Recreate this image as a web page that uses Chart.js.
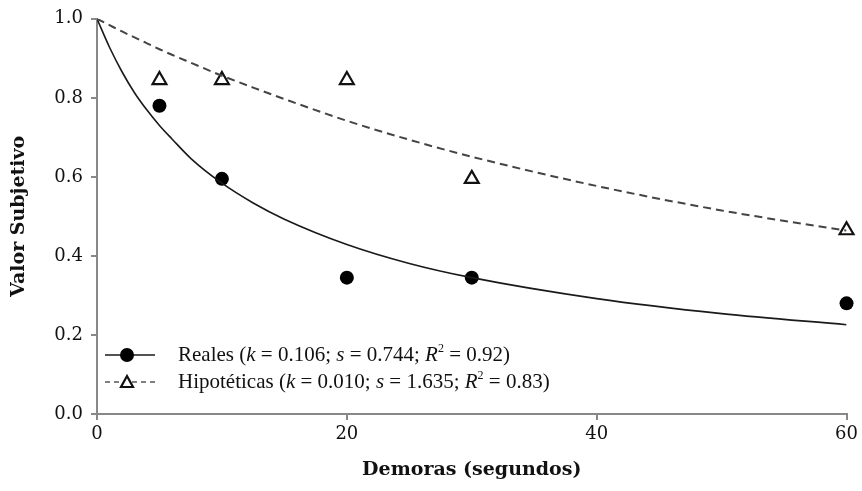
<!DOCTYPE html>
<html><head><meta charset="utf-8">
<script src="https://cdn.jsdelivr.net/npm/chart.js@4.4.1/dist/chart.umd.min.js"></script>
<style>html,body{margin:0;padding:0;background:#fff}#wrap{width:862px;height:491px}</style>
</head><body><div id="wrap"><canvas id="c" width="862" height="491"></canvas></div>
<script>
// Observed points
const delays = [5, 10, 20, 30, 60];
const realesValues = [0.78, 0.595, 0.345, 0.345, 0.28];
const hipoteticasValues = [0.845, 0.845, 0.845, 0.595, 0.465];
// Fitted curves, values
const curveDelays = [0, 1, 2, 3, 4, 5, 6, 7.5, 10, 12.5, 15, 20, 25, 30, 40, 50, 60];
const realesCurve = [1.0, 0.928, 0.866, 0.813, 0.769, 0.73, 0.696, 0.647, 0.584, 0.534, 0.493, 0.429, 0.381, 0.345, 0.292, 0.254, 0.226];
const hipoteticasCurve = [1.0, 0.984, 0.968, 0.953, 0.938, 0.923, 0.909, 0.889, 0.856, 0.826, 0.797, 0.742, 0.694, 0.651, 0.577, 0.515, 0.464];
// Tick labels
const xTicks = [0, 20, 40, 60];
const yTicks = [0.0, 0.2, 0.4, 0.6, 0.8, 1.0];
// Legend texts
const legendNames = ['Reales', 'Hipotéticas'];
const legendK = ['0.106', '0.010'];
const legendS = ['0.744', '1.635'];
const legendR2 = ['0.92', '0.83'];

const SERIF = '"DejaVu Serif", "Liberation Serif", serif';
const LSERIF = '"Liberation Serif", "DejaVu Serif", serif';
const toXY = (xs, ys) => xs.map((x, i) => ({x: x, y: ys[i]}));

const legendPlugin = {
  id: 'customLegend',
  afterDraw(chart) {
    const ctx = chart.ctx, ca = chart.chartArea;
    const x0 = ca.left + 8, x1 = ca.left + 58, xm = ca.left + 30, tx = ca.left + 81;
    const ys = [ca.bottom - 59, ca.bottom - 32];
    ctx.save();
    for (let i = 0; i < 2; i++) {
      const y = ys[i];
      ctx.beginPath();
      ctx.strokeStyle = i === 0 ? '#1a1a1a' : '#555';
      ctx.lineWidth = 1.6;
      ctx.setLineDash(i === 0 ? [] : [5, 4]);
      ctx.moveTo(x0, y); ctx.lineTo(x1, y); ctx.stroke();
      ctx.setLineDash([]);
      if (i === 0) {
        ctx.beginPath(); ctx.fillStyle = '#000';
        ctx.arc(xm, y, 7, 0, Math.PI * 2); ctx.fill();
      } else {
        ctx.beginPath(); ctx.fillStyle = '#fff'; ctx.strokeStyle = '#111'; ctx.lineWidth = 2.2;
        ctx.moveTo(xm, y - 6); ctx.lineTo(xm + 6, y + 5); ctx.lineTo(xm - 6, y + 5); ctx.closePath();
        ctx.fill(); ctx.stroke();
      }
      const segs = [
        {t: legendNames[i] + ' (', f: ''},
        {t: 'k', f: 'italic '},
        {t: ' = ' + legendK[i] + '; ', f: ''},
        {t: 's', f: 'italic '},
        {t: ' = ' + legendS[i] + '; ', f: ''},
        {t: 'R', f: 'italic '},
        {t: '2', f: '', sup: true},
        {t: ' = ' + legendR2[i] + ')', f: ''}
      ];
      let x = tx;
      ctx.fillStyle = '#111';
      ctx.textBaseline = 'middle';
      ctx.textAlign = 'left';
      for (const s of segs) {
        ctx.font = s.f + (s.sup ? '12px ' : '21px ') + LSERIF;
        ctx.fillText(s.t, x, s.sup ? y - 6 : y);
        x += ctx.measureText(s.t).width;
      }
    }
    ctx.restore();
  }
};

new Chart(document.getElementById('c'), {
  type: 'scatter',
  data: {
    datasets: [
      {data: toXY(curveDelays, hipoteticasCurve), showLine: true, pointRadius: 0, borderColor: '#444', borderWidth: 2, borderDash: [8, 5], tension: 0.4, cubicInterpolationMode: 'monotone', fill: false},
      {data: toXY(curveDelays, realesCurve), showLine: true, pointRadius: 0, borderColor: '#1a1a1a', borderWidth: 1.6, tension: 0.4, cubicInterpolationMode: 'monotone', fill: false},
      {data: toXY(delays, hipoteticasValues), pointStyle: 'triangle', pointRadius: 8, pointBackgroundColor: '#fff', pointBorderColor: '#111', pointBorderWidth: 2.2, clip: false},
      {data: toXY(delays, realesValues), pointStyle: 'circle', pointRadius: 7, pointBackgroundColor: '#000', pointBorderColor: '#000', pointBorderWidth: 0, clip: false}
    ]
  },
  options: {
    responsive: false,
    animation: false,
    layout: {padding: {left: 0, top: 14, right: 13, bottom: 0}},
    plugins: {legend: {display: false}, tooltip: {enabled: false}},
    scales: {
      x: {
        type: 'linear', min: 0, max: 60,
        afterBuildTicks: (s) => { s.ticks = xTicks.map(v => ({value: v})); },
        afterFit: (s) => { s.height = 77; },
        grid: {display: true, drawOnChartArea: false, drawTicks: true, tickLength: 6, color: '#888', lineWidth: 2},
        border: {display: true, color: '#888', width: 2},
        ticks: {color: '#111', font: {family: SERIF, size: 18}, padding: 4, callback: (v) => String(v)},
        title: {display: true, text: 'Demoras (segundos)', color: '#111', font: {family: SERIF, size: 19, weight: 'bold'}, padding: {top: 4, bottom: 10}}
      },
      y: {
        type: 'linear', min: 0, max: 1,
        afterBuildTicks: (s) => { s.ticks = yTicks.map(v => ({value: v})); },
        afterFit: (s) => { s.width = 97; },
        grid: {display: true, drawOnChartArea: false, drawTicks: true, tickLength: 6, color: '#888', lineWidth: 2},
        border: {display: true, color: '#888', width: 2},
        ticks: {color: '#111', font: {family: SERIF, size: 18}, padding: 8, callback: (v) => Number(v).toFixed(1)},
        title: {display: true, text: 'Valor Subjetivo', color: '#111', font: {family: SERIF, size: 19, weight: 'bold'}, padding: {top: 8, bottom: 4}}
      }
    }
  },
  plugins: [legendPlugin]
});
</script></body></html>
